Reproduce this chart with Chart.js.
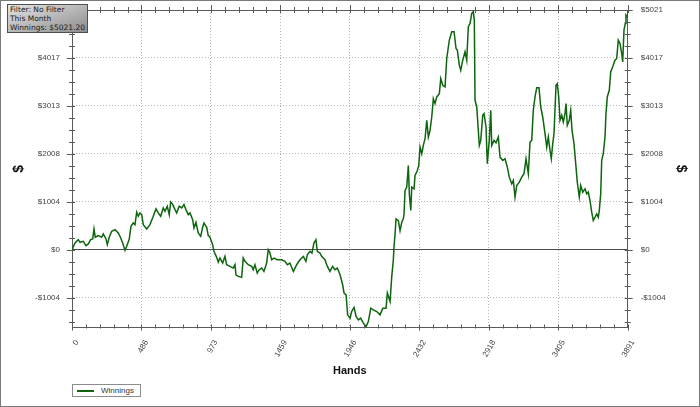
<!DOCTYPE html>
<html>
<head>
<meta charset="utf-8">
<title>Winnings</title>
<script src="https://cdn.jsdelivr.net/npm/chart.js@4.4.1/dist/chart.umd.min.js"></script>
<style>
  html, body { margin: 0; padding: 0; background: #fff; }
  #wrap { position: relative; width: 700px; height: 407px; }
  #frame { position: absolute; left: 0; top: 0; width: 700px; height: 407px; box-sizing: border-box; border: 1px solid #7a7a7a; pointer-events: none; }
  #info { position: absolute; left: 7px; top: 4px; width: 81px; height: 29px; box-sizing: border-box; border: 1px solid #505050;
          background: linear-gradient(160deg, #e4e4e4 0%, #b4b4b4 55%, #8c8c8c 100%);
          font: 7.5px 'DejaVu Sans', sans-serif; color: #1a1a1a; padding: 0 2px; line-height: 9px; white-space: nowrap; }
  #legend { position: absolute; left: 72px; top: 384px; width: 69px; height: 13px; box-sizing: border-box; border: 1px solid #8c8c8c; background: #fff;
            font: 8px 'Liberation Sans', Arial, sans-serif; color: #333; }
  #legend .sw { position: absolute; left: 4px; top: 5px; width: 17px; border-top: 2px solid #0d650d; }
  #legend .tx { position: absolute; left: 28px; top: 1px; line-height: 10px; }
</style>
</head>
<body>
<div id="wrap">
  <canvas id="winChart" width="700" height="407"></canvas>
  <div id="info">Filter: No Filter<br>This Month<br>Winnings: $5021.20</div>
  <div id="legend"><span class="sw"></span><span class="tx">Winnings</span></div>
  <div id="frame"></div>
</div>
<script>
// Hands played (x) and cumulative winnings in $ (y)
const hands = [
  0, 5, 21, 44, 56, 79, 98, 114, 131, 145,
  154, 163, 184, 208, 219, 238, 247, 261, 278, 301,
  324, 336, 355, 371, 383, 401, 413, 429, 441, 453,
  464, 476, 488, 499, 523, 546, 569, 588, 604, 621,
  639, 651, 667, 681, 691, 705, 721, 733, 751, 768,
  784, 798, 814, 826, 845, 854, 868, 884, 901, 915,
  924, 943, 954, 966, 985, 994, 1013, 1024, 1036, 1055,
  1071, 1083, 1106, 1129, 1141, 1148, 1164, 1188, 1199, 1211,
  1234, 1258, 1269, 1281, 1297, 1311, 1328, 1344, 1363, 1374,
  1386, 1398, 1414, 1437, 1468, 1491, 1508, 1526, 1550, 1573,
  1596, 1620, 1638, 1648, 1666, 1680, 1694, 1708, 1718, 1736,
  1748, 1771, 1788, 1806, 1825, 1841, 1858, 1877, 1895, 1905,
  1919, 1930, 1947, 1958, 1975, 1989, 2005, 2021, 2040, 2059,
  2075, 2092, 2110, 2134, 2157, 2176, 2199, 2208, 2227, 2239,
  2250, 2255, 2262, 2269, 2285, 2297, 2309, 2320, 2325, 2332,
  2344, 2355, 2362, 2372, 2379, 2395, 2402, 2418, 2428, 2437,
  2449, 2460, 2472, 2484, 2495, 2507, 2519, 2530, 2542, 2554,
  2572, 2582, 2596, 2612, 2624, 2642, 2659, 2675, 2689, 2698,
  2712, 2722, 2736, 2752, 2764, 2775, 2787, 2799, 2810, 2817,
  2822, 2834, 2852, 2862, 2876, 2885, 2899, 2908, 2922, 2932,
  2939, 2955, 2969, 2985, 2997, 3016, 3032, 3048, 3062, 3079,
  3090, 3102, 3114, 3132, 3149, 3165, 3179, 3195, 3207, 3219,
  3230, 3242, 3254, 3270, 3282, 3296, 3312, 3324, 3335, 3347,
  3356, 3366, 3375, 3389, 3398, 3408, 3417, 3429, 3440, 3452,
  3459, 3468, 3482, 3492, 3501, 3515, 3529, 3538, 3552, 3562,
  3576, 3592, 3604, 3615, 3627, 3639, 3650, 3662, 3674, 3685,
  3692, 3702, 3709, 3720, 3732, 3739, 3748, 3762, 3772, 3786,
  3802, 3814, 3825, 3837, 3849, 3856, 3865, 3874, 3879, 3888,
  3891
];
const winnings = [
  0, 35, 140, 210, 155, 175, 85, 120, 210, 225,
  435, 260, 295, 260, 330, 225, 105, 260, 385, 420,
  350, 280, 140, -15, 70, 225, 490, 560, 525, 785,
  700, 770, 735, 525, 435, 525, 700, 855, 770, 700,
  875, 805, 910, 735, 1000, 950, 840, 770, 910, 875,
  945, 840, 735, 770, 630, 455, 575, 350, 280, 470,
  560, 470, 295, 260, 100, -35, -160, -260, -175, -280,
  -140, -315, -350, -385, -315, -525, -560, -580, -175, -245,
  -315, -350, -420, -315, -490, -420, -385, -455, -280, 0,
  -70, -210, -175, -210, -210, -245, -315, -280, -455, -315,
  -210, -140, -245, -105, -35, -70, 140, 210, -35, -70,
  -140, -210, -350, -455, -350, -420, -385, -525, -735, -910,
  -945, -1365, -1435, -1295, -1210, -1400, -1470, -1435, -1540, -1610,
  -1505, -1225, -1260, -1295, -1365, -1225, -1225, -910, -1085, -560,
  -210, 70, 330, 645, 610, 400, 575, 645, 750, 1240,
  1310, 1765, 1170, 820, 1310, 1275, 1555, 1660, 1765, 2150,
  2010, 2185, 2325, 2710, 2360, 2500, 2780, 3165, 3060, 3200,
  3270, 3585, 3445, 3410, 4005, 4390, 4565, 4565, 4215, 4180,
  3865, 3760, 3970, 4145, 3970, 4670, 4740, 4950, 4985, 4810,
  3130, 2990, 2185, 2290, 2815, 2850, 2570, 1800, 2300, 2920,
  2185, 2290, 2240, 2360, 1940, 1870, 1905, 1730, 1520, 1380,
  1450, 1100, 1345, 1415, 1520, 1590, 1905, 1590, 2255, 2290,
  2920, 3200, 3395, 3395, 2990, 2780, 2430, 2150, 2360, 2080,
  1905, 2220, 2430, 3445, 3480, 3200, 2710, 2815, 2675, 2850,
  3060, 2605, 2710, 2920, 2500, 2220, 1730, 1415, 1100, 1345,
  1205, 1275, 1170, 1205, 1030, 785, 610, 680, 750, 680,
  820, 1170, 1870, 2010, 2360, 2850, 3200, 3340, 3725, 3830,
  3970, 4005, 4390, 4320, 4110, 3935, 4600, 4740, 4915, 4880,
  5021.2
];

// Axis ticks (hands split in 8, dollars in 5 steps up to the final total)
const xMajorTicks = [0, 486.375, 972.75, 1459.125, 1945.5, 2431.875, 2918.25, 3404.625, 3891];
const xTickLabels = ['0', '486', '973', '1459', '1946', '2432', '2918', '3405', '3891'];
const yMajorTicks = [-1004.24, 0, 1004.24, 2008.48, 3012.72, 4016.96, 5021.2];
const yTickLabels = ['-$1004', '$0', '$1004', '$2008', '$3013', '$4017', '$5021'];

const xMin = 0, xMax = 3891, yMin = -1630, yMax = 5021.2;
const FONT = "'Liberation Sans', Arial, sans-serif";

// majors plus unlabeled minor ticks in between
function buildTicks(majors, labels, parts, min, max) {
    const step = (majors[1] - majors[0]) / parts;
    const out = [];
    for (let v = majors[0] - step; v >= min - 1e-6; v -= step) out.unshift({ value: v, isMajor: false, lbl: '' });
    majors.forEach((m, i) => {
        out.push({ value: m, isMajor: true, lbl: labels[i] });
        if (i < majors.length - 1) {
            for (let k = 1; k < parts; k++) out.push({ value: m + k * step, isMajor: false, lbl: '' });
        }
    });
    for (let v = majors[majors.length - 1] + step; v <= max + 1e-6; v += step) out.push({ value: v, isMajor: false, lbl: '' });
    return out;
}

const setXTicks = scale => { scale.ticks = buildTicks(xMajorTicks, xTickLabels, 5, xMin, xMax); };
const setYTicks = scale => { scale.ticks = buildTicks(yMajorTicks, yTickLabels, 4, yMin, yMax); };

// fixed axis widths, and no extra label padding pushing the plot down
const fitY = w => s => { s.width = w; s.paddingTop = 0; s.paddingBottom = 0; };

const gridColor = c => (c.tick && c.tick.isMajor) ? (c.tick.value === 0 ? '#4a4a4a' : '#b8b8b8') : 'rgba(0,0,0,0)';
const gridDash = c => (c.tick && c.tick.value === 0) ? [] : [1, 2];

// little tick marks crossing the axis lines
const crossTicks = {
    id: 'crossTicks',
    afterDraw(chart) {
        const ctx = chart.ctx;
        ctx.save();
        ctx.strokeStyle = '#5a5a5a';
        ctx.lineWidth = 1;
        ['x', 'xTop', 'y', 'yRight'].forEach(id => {
            const s = chart.scales[id];
            s.ticks.forEach(t => {
                const p = Math.round(s.getPixelForValue(t.value)) + 0.5;
                const out = t.isMajor ? 5 : 3, inn = 3;
                ctx.beginPath();
                if (id === 'x') { ctx.moveTo(p, s.top - inn); ctx.lineTo(p, s.top + out - 2); }
                else if (id === 'xTop') { ctx.moveTo(p, s.bottom + inn); ctx.lineTo(p, s.bottom - out); }
                else if (id === 'y') { ctx.moveTo(s.right - out, p); ctx.lineTo(s.right + inn, p); }
                else { ctx.moveTo(s.left - inn, p); ctx.lineTo(s.left + out, p); }
                ctx.stroke();
            });
        });
        ctx.restore();
    }
};

const ctxWin = document.getElementById('winChart').getContext('2d');
new Chart(ctxWin, {
    type: 'line',
    data: {
        datasets: [{
            label: 'Winnings',
            data: hands.map((h, i) => ({ x: h, y: winnings[i] })),
            borderColor: '#0d650d',
            borderWidth: 1.5,
            pointRadius: 0,
            fill: false,
            tension: 0
        }]
    },
    options: {
        responsive: false,
        animation: false,
        layout: { padding: { left: 0, right: 0, top: 10, bottom: 27 } },
        plugins: { legend: { display: false }, tooltip: { enabled: false } },
        scales: {
            x: {
                type: 'linear', position: 'bottom', min: xMin, max: xMax,
                afterBuildTicks: setXTicks,
                afterFit: s => { s.height = 52.5; },
                grid: { color: gridColor, drawTicks: false },
                border: { color: '#5a5a5a', dash: [1, 2] },
                ticks: {
                    autoSkip: false, minRotation: 60, maxRotation: 60, padding: 11, labelOffset: 5,
                    color: '#444', font: { family: FONT, size: 8 },
                    callback: (v, i, t) => t[i].lbl
                },
                title: { display: true, text: 'Hands', color: '#111', font: { family: FONT, size: 11, weight: 'bold' }, padding: { top: 0, bottom: 2 } }
            },
            xTop: {
                type: 'linear', position: 'top', min: xMin, max: xMax,
                afterBuildTicks: setXTicks,
                afterFit: s => { s.height = 0; },
                grid: { drawOnChartArea: false, drawTicks: false },
                border: { color: '#5a5a5a' },
                ticks: { display: false }
            },
            y: {
                type: 'linear', position: 'left', min: yMin, max: yMax,
                afterBuildTicks: setYTicks,
                afterFit: fitY(72),
                grid: { color: gridColor, drawTicks: false },
                border: { color: '#5a5a5a', dash: gridDash },
                ticks: { autoSkip: false, padding: 12, color: '#444', font: { family: FONT, size: 8 }, callback: (v, i, t) => t[i].lbl },
                title: { display: true, text: '$', color: '#111', font: { family: FONT, size: 14, weight: 'bold' }, padding: { top: 11, bottom: 0 } }
            },
            yRight: {
                type: 'linear', position: 'right', min: yMin, max: yMax,
                afterBuildTicks: setYTicks,
                afterFit: fitY(72.3),
                grid: { drawOnChartArea: false, drawTicks: false },
                border: { color: '#5a5a5a' },
                ticks: { autoSkip: false, padding: 13, color: '#444', font: { family: FONT, size: 8 }, callback: (v, i, t) => t[i].lbl },
                title: { display: true, text: '$', color: '#111', font: { family: FONT, size: 14, weight: 'bold' }, padding: { top: 11, bottom: 0 } }
            }
        }
    },
    plugins: [crossTicks]
});
</script>
</body>
</html>
